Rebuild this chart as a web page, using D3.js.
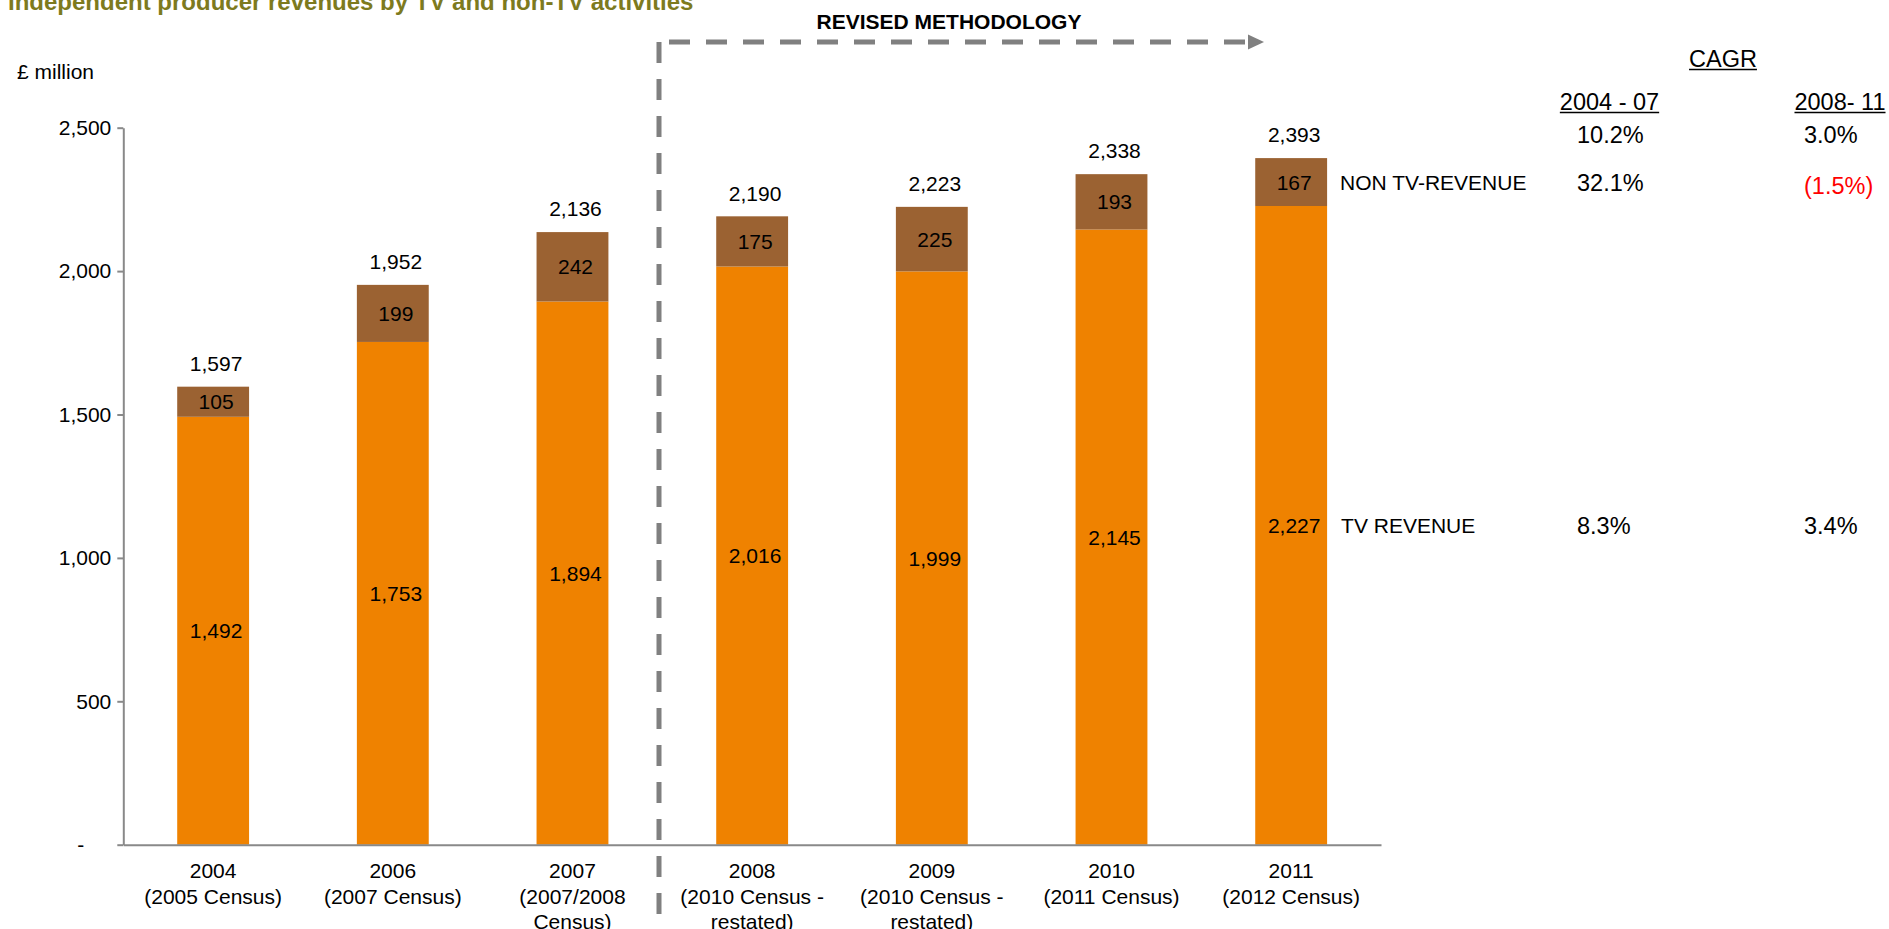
<!DOCTYPE html>
<html>
<head>
<meta charset="utf-8">
<script src="https://cdn.jsdelivr.net/npm/d3@7"></script>
<style>
  html, body { margin: 0; padding: 0; background: #fff; }
  svg { display: block; font-family: "Liberation Sans", Arial, Helvetica, sans-serif; }
</style>
</head>
<body>
<svg id="chart" width="1889" height="929"></svg>
<script>
// Independent producer revenues (£ million)
const categories = ["2004", "2006", "2007", "2008", "2009", "2010", "2011"];
const categoryLines = [
  ["2004", "(2005 Census)"],
  ["2006", "(2007 Census)"],
  ["2007", "(2007/2008", "Census)"],
  ["2008", "(2010 Census -", "restated)"],
  ["2009", "(2010 Census -", "restated)"],
  ["2010", "(2011 Census)"],
  ["2011", "(2012 Census)"]
];
const tvRevenue = [1492, 1753, 1894, 2016, 1999, 2145, 2227];
const nonTvRevenue = [105, 199, 242, 175, 225, 193, 167];
const totalRevenue = [1597, 1952, 2136, 2190, 2223, 2338, 2393];
const yTicks = [0, 500, 1000, 1500, 2000, 2500];

// Compound annual growth rates
const cagrPeriods = ["2004 - 07", "2008- 11"];
const cagrTotal = ["10.2%", "3.0%"];
const cagrNonTv = ["32.1%", "(1.5%)"];
const cagrTv = ["8.3%", "3.4%"];

const COLOR_TV = "#ef8200";
const COLOR_NON_TV = "#9b6232";
const AXIS_GREY = "#898989";
const DASH_GREY = "#808080";
const TITLE_OLIVE = "#7d7a1e";
const fmt = d3.format(",");

const svg = d3.select("#chart");

const x = d3.scaleBand()
  .domain(categories)
  .range([123.3, 1381])
  .paddingInner(0.6)
  .paddingOuter(0.3);

const y = d3.scaleLinear()
  .domain([0, 2500])
  .range([844.7, 127.7]);

// Title
svg.append("text")
  .attr("x", 8).attr("y", 10)
  .attr("font-size", 24).attr("font-weight", "bold")
  .attr("fill", TITLE_OLIVE)
  .text("Independent producer revenues by TV and non-TV activities");

// Unit label
svg.append("text")
  .attr("x", 17).attr("y", 78.5)
  .attr("font-size", 21).attr("fill", "#000")
  .text("£ million");

// Stacked bars
const bars = svg.append("g");
bars.selectAll("rect.tv")
  .data(categories)
  .join("rect")
  .attr("class", "tv")
  .attr("x", d => x(d))
  .attr("width", x.bandwidth())
  .attr("y", (d, i) => y(tvRevenue[i]))
  .attr("height", (d, i) => y(0) - y(tvRevenue[i]))
  .attr("fill", COLOR_TV);

bars.selectAll("rect.nontv")
  .data(categories)
  .join("rect")
  .attr("class", "nontv")
  .attr("x", d => x(d))
  .attr("width", x.bandwidth())
  .attr("y", (d, i) => y(tvRevenue[i] + nonTvRevenue[i]))
  .attr("height", (d, i) => y(tvRevenue[i]) - y(tvRevenue[i] + nonTvRevenue[i]))
  .attr("fill", COLOR_NON_TV);

// Y axis
const yAxis = d3.axisLeft(y)
  .tickValues(yTicks)
  .tickSize(6)
  .tickSizeOuter(0)
  .tickPadding(6)
  .tickFormat(v => v === 0 ? "-" : fmt(v));

const gy = svg.append("g")
  .attr("transform", `translate(${x.range()[0]},0)`)
  .call(yAxis);
gy.attr("font-family", null).attr("font-size", null);
gy.select(".domain").attr("stroke", AXIS_GREY).attr("stroke-width", 2);
gy.selectAll(".tick line").attr("stroke", AXIS_GREY).attr("stroke-width", 2);
gy.selectAll(".tick text")
  .attr("font-size", 21)
  .attr("fill", "#000");
gy.selectAll(".tick text").filter(d => d === 0).attr("dx", -27);

// X axis baseline
const xAxis = d3.axisBottom(x).tickSize(0).tickSizeOuter(0).tickFormat("");
const gx = svg.append("g")
  .attr("transform", `translate(0,${y(0)})`)
  .call(xAxis);
gx.select(".domain").attr("stroke", AXIS_GREY).attr("stroke-width", 2);

// Category labels
const cx = d => x(d) + x.bandwidth() / 2;
const catG = svg.append("g").attr("font-size", 21).attr("fill", "#000").attr("text-anchor", "middle");
categories.forEach((c, i) => {
  const t = catG.append("text").attr("x", cx(c)).attr("y", 878);
  categoryLines[i].forEach((line, j) => {
    t.append("tspan").attr("x", cx(c)).attr("dy", j === 0 ? 0 : 25.5).text(line);
  });
});

// Value labels
const labelDx = 3;
const vG = svg.append("g").attr("font-size", 21).attr("fill", "#000").attr("text-anchor", "middle");
vG.selectAll("text.tvv")
  .data(categories)
  .join("text")
  .attr("x", d => cx(d) + labelDx)
  .attr("y", (d, i) => (y(0) + y(tvRevenue[i])) / 2 + 7.5)
  .text((d, i) => fmt(tvRevenue[i]));
vG.selectAll("text.ntv")
  .data(categories)
  .join("text")
  .attr("x", d => cx(d) + labelDx)
  .attr("y", (d, i) => (y(tvRevenue[i]) + y(tvRevenue[i] + nonTvRevenue[i])) / 2 + 7.5)
  .text((d, i) => fmt(nonTvRevenue[i]));
vG.selectAll("text.tot")
  .data(categories)
  .join("text")
  .attr("x", d => cx(d) + labelDx)
  .attr("y", (d, i) => y(totalRevenue[i]) - 16)
  .text((d, i) => fmt(totalRevenue[i]));

// Methodology change marker
const mark = svg.append("g");
mark.append("line")
  .attr("x1", 659).attr("x2", 659)
  .attr("y1", 42).attr("y2", 929)
  .attr("stroke", DASH_GREY).attr("stroke-width", 5)
  .attr("stroke-dasharray", "21 16");
mark.append("line")
  .attr("x1", 669).attr("x2", 1250)
  .attr("y1", 42).attr("y2", 42)
  .attr("stroke", DASH_GREY).attr("stroke-width", 5)
  .attr("stroke-dasharray", "21 16");
mark.append("path")
  .attr("d", "M1248,34.5 L1264,42 L1248,49.5 Z")
  .attr("fill", DASH_GREY);
mark.append("text")
  .attr("x", 949).attr("y", 29)
  .attr("text-anchor", "middle")
  .attr("font-size", 21).attr("font-weight", "bold").attr("fill", "#000")
  .text("REVISED METHODOLOGY");

// Series labels beside the last bar
const last = categories.length - 1;
const lastRight = x(categories[last]) + x.bandwidth();
const yNonTvMid = (y(tvRevenue[last]) + y(tvRevenue[last] + nonTvRevenue[last])) / 2;
const yTvMid = (y(0) + y(tvRevenue[last])) / 2;
const yTotalLabel = y(totalRevenue[last]) - 16;

const side = svg.append("g").attr("fill", "#000");
side.append("text").attr("x", lastRight + 13).attr("y", yNonTvMid + 7.5)
  .attr("font-size", 21).text("NON TV-REVENUE");
side.append("text").attr("x", lastRight + 14).attr("y", yTvMid + 7.5)
  .attr("font-size", 21).text("TV REVENUE");

// CAGR table
const colLeft = [1577, 1804];
const colCenter = [1609.5, 1840];
const cagr = svg.append("g").attr("font-size", 23.5).attr("fill", "#000");

function underlined(g, text, cxPos, base) {
  const t = g.append("text").attr("x", cxPos).attr("y", base).attr("text-anchor", "middle").text(text);
  const w = t.node().getComputedTextLength();
  g.append("line")
    .attr("x1", cxPos - w / 2).attr("x2", cxPos + w / 2)
    .attr("y1", base + 3).attr("y2", base + 3)
    .attr("stroke", "#000").attr("stroke-width", 1.5);
}

underlined(cagr, "CAGR", 1723, 66.5);
cagrPeriods.forEach((p, i) => underlined(cagr, p, colCenter[i], 109.5));

cagrTotal.forEach((v, i) => {
  cagr.append("text").attr("x", colLeft[i]).attr("y", yTotalLabel + 1).text(v);
});
cagrNonTv.forEach((v, i) => {
  const negative = v.startsWith("(");
  cagr.append("text").attr("x", colLeft[i]).attr("y", yNonTvMid + 8.5 + (negative ? 3.5 : 0))
    .attr("fill", negative ? "#ff0000" : "#000")
    .text(v);
});
cagrTv.forEach((v, i) => {
  cagr.append("text").attr("x", colLeft[i]).attr("y", yTvMid + 8.5).text(v);
});
</script>
</body>
</html>
